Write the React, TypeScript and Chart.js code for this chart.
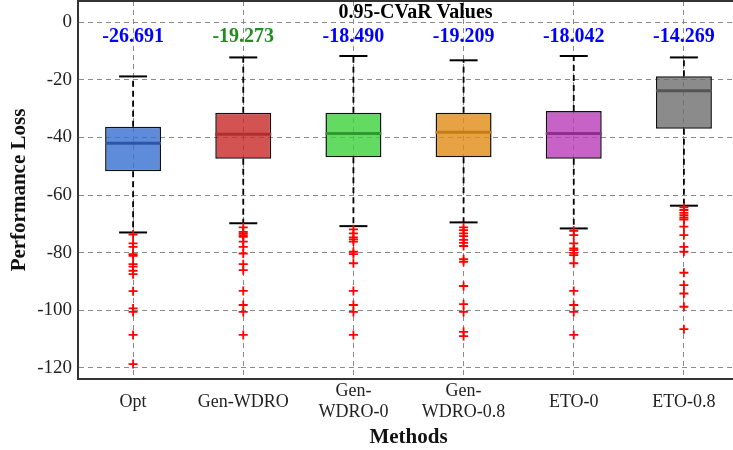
import React, { useEffect, useRef } from 'react';
import { Chart, registerables } from 'chart.js';

Chart.register(...registerables);

// ---------- data ----------
const methods = ['Opt', 'Gen-WDRO', 'Gen-WDRO-0', 'Gen-WDRO-0.8', 'ETO-0', 'ETO-0.8'];
const tickLines = [['Opt'], ['Gen-WDRO'], ['Gen-', 'WDRO-0'], ['Gen-', 'WDRO-0.8'], ['ETO-0'], ['ETO-0.8']];

const q1 = [-51.7, -47.4, -46.9, -46.9, -47.4, -37.0];
const q3 = [-36.3, -31.4, -31.4, -31.4, -30.8, -18.7];
const medians = [-42.0, -38.9, -38.6, -38.2, -38.6, -23.8];
const upperWhisker = [-18.8, -12.2, -11.7, -13.2, -11.7, -12.2];
const lowerWhisker = [-73.0, -69.8, -70.8, -69.5, -71.6, -63.7];

const outliersOpt = [-73.7, -76.8, -78.0, -80.5, -81.1, -84.0, -84.9, -86.3, -87.5, -93.4, -99.4, -100.6, -108.6, -118.7];
const outliersGenWDRO = [-71.2, -72.8, -73.3, -73.9, -74.5, -76.2, -78.0, -80.3, -84.0, -86.1, -93.3, -98.2, -100.6, -108.6];
const outliersGenWDRO0 = [-71.9, -73.3, -74.7, -75.4, -76.2, -79.7, -80.5, -83.7, -93.3, -98.2, -100.6, -108.6];
const outliersGenWDRO08 = [-71.2, -72.2, -73.3, -74.3, -75.6, -76.6, -77.7, -82.3, -83.2, -91.6, -97.9, -100.6, -107.5, -109.0];
const outliersETO0 = [-72.4, -73.9, -76.8, -78.5, -79.1, -80.1, -80.9, -83.7, -93.3, -98.2, -100.6, -108.6];
const outliersETO08 = [-64.3, -65.2, -66.2, -67.0, -67.8, -68.5, -71.0, -73.9, -78.0, -79.7, -87.0, -91.3, -94.2, -98.8, -106.6];
const outliers = [outliersOpt, outliersGenWDRO, outliersGenWDRO0, outliersGenWDRO08, outliersETO0, outliersETO08];

const cvarValues = [-26.691, -19.273, -18.490, -19.209, -18.042, -14.269];
const cvarColors = ['#0000ff', '#228b22', '#0000ff', '#0000ff', '#0000ff', '#0000ff'];
const chartTitle = '0.95-CVaR Values';
const cvarTextLevel = -5.1;
const titleLevel = 3.2;

const yTicks = [-120, -100, -80, -60, -40, -20, 0];

const boxColors = [
  'rgba(55,110,210,0.8)',
  'rgba(200,40,40,0.8)',
  'rgba(60,210,60,0.8)',
  'rgba(225,140,20,0.8)',
  'rgba(185,60,185,0.8)',
  'rgba(110,110,110,0.8)',
];
const medianColors = ['#2d55a5', '#b03030', '#2e9a2e', '#c47c14', '#8e2e8e', '#555555'];

const FONT = '"Liberation Serif", "Times New Roman", serif';

export default function App() {
  const ref = useRef<HTMLCanvasElement | null>(null);

  useEffect(() => {
    document.body.style.margin = '0';
    const canvas = ref.current;
    if (!canvas) return;

    const whiskerData: any[] = [];
    const capData: any[] = [];
    const medianData: any[] = [];
    const outlierData: any[] = [];
    methods.forEach((m, i) => {
      whiskerData.push(
        { x: m, y: q3[i] }, { x: m, y: upperWhisker[i] }, { x: m, y: null },
        { x: m, y: q1[i] }, { x: m, y: lowerWhisker[i] }, { x: m, y: null },
      );
      capData.push({ x: m, y: upperWhisker[i] }, { x: m, y: lowerWhisker[i] });
      medianData.push({ x: m, y: medians[i] });
      outliers[i].forEach((v) => outlierData.push({ x: m, y: v }));
    });

    const annot = {
      id: 'annot',
      afterDatasetsDraw(chart: any) {
        const { ctx, chartArea, scales } = chart;
        const xs = scales.x;
        const ys = scales.y;
        ctx.save();
        ctx.strokeStyle = '#333';
        ctx.lineWidth = 2;
        ctx.beginPath();
        ctx.moveTo(chartArea.left, chartArea.top);
        ctx.lineTo(chartArea.right, chartArea.top);
        ctx.stroke();
        ctx.textAlign = 'center';
        ctx.textBaseline = 'middle';
        ctx.font = `bold 20px ${FONT}`;
        cvarValues.forEach((v, i) => {
          ctx.fillStyle = cvarColors[i];
          ctx.fillText(v.toFixed(3), xs.getPixelForValue(i), ys.getPixelForValue(cvarTextLevel));
        });
        ctx.fillStyle = '#000';
        ctx.fillText(chartTitle, (chartArea.left + chartArea.right) / 2 + 7, ys.getPixelForValue(titleLevel));
        ctx.restore();
      },
    };

    const chart = new Chart(canvas, {
      type: 'bar',
      data: {
        labels: methods,
        datasets: [
          {
            type: 'line',
            data: outlierData,
            showLine: false,
            pointStyle: 'cross',
            pointRadius: 4.5,
            pointBorderWidth: 1.8,
            pointBorderColor: '#ff0000',
            borderColor: '#ff0000',
            order: 1,
          } as any,
          {
            type: 'line',
            data: capData,
            showLine: false,
            pointStyle: 'line',
            pointRadius: 14,
            pointBorderWidth: 2,
            pointBorderColor: '#000',
            borderColor: '#000',
            order: 2,
          } as any,
          {
            type: 'line',
            data: medianData,
            showLine: false,
            pointStyle: 'line',
            pointRadius: 28,
            pointBorderWidth: 3,
            pointBorderColor: medianColors,
            borderColor: medianColors,
            order: 3,
          } as any,
          {
            type: 'line',
            data: whiskerData,
            spanGaps: false,
            borderColor: '#000',
            borderWidth: 1.8,
            borderDash: [6, 4],
            pointRadius: 0,
            order: 4,
          } as any,
          {
            type: 'bar',
            data: methods.map((_, i) => [q1[i], q3[i]]),
            backgroundColor: boxColors,
            borderColor: '#111',
            borderWidth: 1.5,
            borderSkipped: false,
            grouped: false,
            barPercentage: 0.508,
            categoryPercentage: 1,
            order: 5,
          } as any,
        ],
      },
      options: {
        responsive: false,
        animation: false,
        layout: { autoPadding: false, padding: { top: 1, right: 2, bottom: 0, left: 0 } },
        plugins: { legend: { display: false }, tooltip: { enabled: false } },
        scales: {
          x: {
            type: 'category',
            offset: true,
            grid: { offset: false, color: '#8a8a8a', lineWidth: 1, drawTicks: false },
            border: { display: true, color: '#333', width: 2, dash: [5, 4] },
            ticks: {
              callback: (_v: any, i: number) => tickLines[i],
              font: { family: FONT, size: 18, lineHeight: 1.17 },
              color: '#222',
              padding: 12.5,
              crossAlign: 'center',
              maxRotation: 0,
              autoSkip: false,
            },
            title: {
              display: true,
              text: 'Methods',
              font: { family: FONT, size: 21, weight: 'bold' },
              color: '#111',
              padding: { top: 0, bottom: 0 },
            },
            afterFit: (s: any) => { s.height = 71; s.paddingLeft = 0; s.paddingRight = 0; },
          } as any,
          y: {
            min: -123.9,
            max: 7.4,
            afterBuildTicks: (s: any) => { s.ticks = yTicks.map((v) => ({ value: v })); },
            grid: { color: '#8a8a8a', lineWidth: 1, drawTicks: false },
            border: { display: true, color: '#333', width: 2, dash: [5, 4] },
            ticks: { font: { family: FONT, size: 19 }, color: '#222', padding: 6 },
            title: {
              display: true,
              text: 'Performance Loss',
              font: { family: FONT, size: 21, weight: 'bold' },
              color: '#111',
              padding: { top: 7, bottom: 0 },
            },
            afterFit: (s: any) => { s.width = 78; s.paddingTop = 0; s.paddingBottom = 0; },
          } as any,
        },
      },
      plugins: [annot],
    });

    return () => chart.destroy();
  }, []);

  return (
    <div style={{ width: 733, height: 450, overflow: 'hidden', position: 'relative' }}>
      <canvas ref={ref} width={741} height={450} style={{ display: 'block' }} />
    </div>
  );
}
